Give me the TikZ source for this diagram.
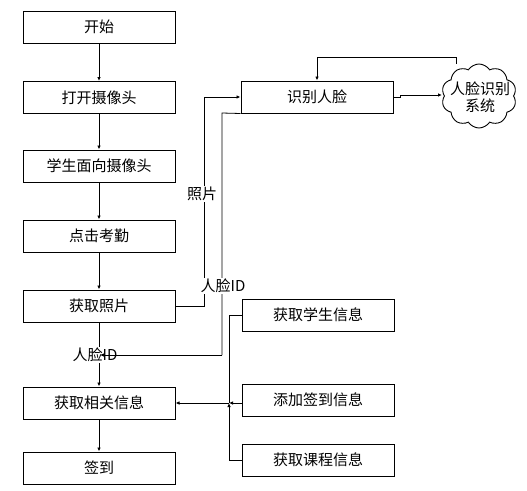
\documentclass[tikz,border=0pt]{standalone}
\usepackage{fontspec}
\newfontfamily\cjk{Noto Sans CJK SC}
\usetikzlibrary{arrows.meta,shapes.symbols}
\tikzset{
  box/.style={draw,line width=1pt,minimum width=152pt,minimum height=32pt,inner sep=0pt},
  conn/.style={line width=0.8pt},
  arr/.style={conn,-{Latex[length=4pt,width=3.5pt]}},
  lbl/.style={fill=white,inner sep=1pt},
}
\begin{document}
\begin{tikzpicture}[x=1pt,y=-1pt,font=\cjk\fontsize{15}{17}\selectfont]
\useasboundingbox (0,0) rectangle (527,490);
% left column
\node[box] (ks) at (99,27) {开始};
\node[box] (dk) at (99,97.5) {打开摄像头};
\node[box] (xs) at (99,166) {学生面向摄像头};
\node[box] (dj) at (99,236) {点击考勤};
\node[box] (zp) at (99,306) {获取照片};
\node[box] (xg) at (99,403) {获取相关信息};
\node[box] (qd) at (99,468) {签到};
% right
\node[box] (sb) at (317,97) {识别人脸};
\node[box] (xx) at (318,315) {获取学生信息};
\node[box] (tj) at (318,400) {添加签到信息};
\node[box] (kc) at (318,460) {获取课程信息};
\node[cloud,draw,line width=0.9pt,cloud puffs=10,cloud puff arc=115,aspect=1.2,minimum width=75pt,minimum height=64pt,inner sep=0pt] (yun) at (479,96) {};
\node[align=center,inner sep=0pt] (yuntxt) at (480,97) {人脸识别\\[0pt]系统};
% coordinates
\coordinate (a1) at (204,306);
\coordinate (b1) at (222,113);
\coordinate (b2) at (222,355);
\coordinate (b3) at (100,355);
\coordinate (j) at (229,403);
\coordinate (t1) at (456,57);
\coordinate (t2) at (317,57);
\coordinate (r1) at (400,97);
\coordinate (r2) at (400,95);
\coordinate (r3) at (442,95);
% main chain
\draw[arr] (ks) -- (dk);
\draw[arr] (dk) -- (xs);
\draw[arr] (xs) -- (dj);
\draw[arr] (dj) -- (zp);
\draw[arr] (zp) -- (xg);
\draw[arr] (xg) -- (qd);
% photo to recognition
\draw[arr] (zp.east) -- (a1) |- (sb.west);
\node[lbl] (lzp) at (202,194) {照片};
% recognition to cloud and back
\draw[conn] (sb.east |- r1) -- (r1) -- (r2);
\draw[arr] (r2) -- (r3);
\draw[arr] (yun.north -| t1) -- (t1) -- (t2) -- (sb.north);
% face ID back
\draw[conn] (sb.south west) -- (b1) -- (b2);
\node[lbl] (lid1) at (223,286) {人脸ID};
\node[lbl] (lid2) at (95,355) {人脸ID};
\draw[arr] (b2) -- (b3);
% right info boxes
\draw[conn] (xx.west) -| (j);
\draw[arr] (kc.west) -| (j);
\draw[arr] (tj.west |- j) -- (j);
\draw[arr] (j) -- (xg.east);
\end{tikzpicture}
\end{document}
